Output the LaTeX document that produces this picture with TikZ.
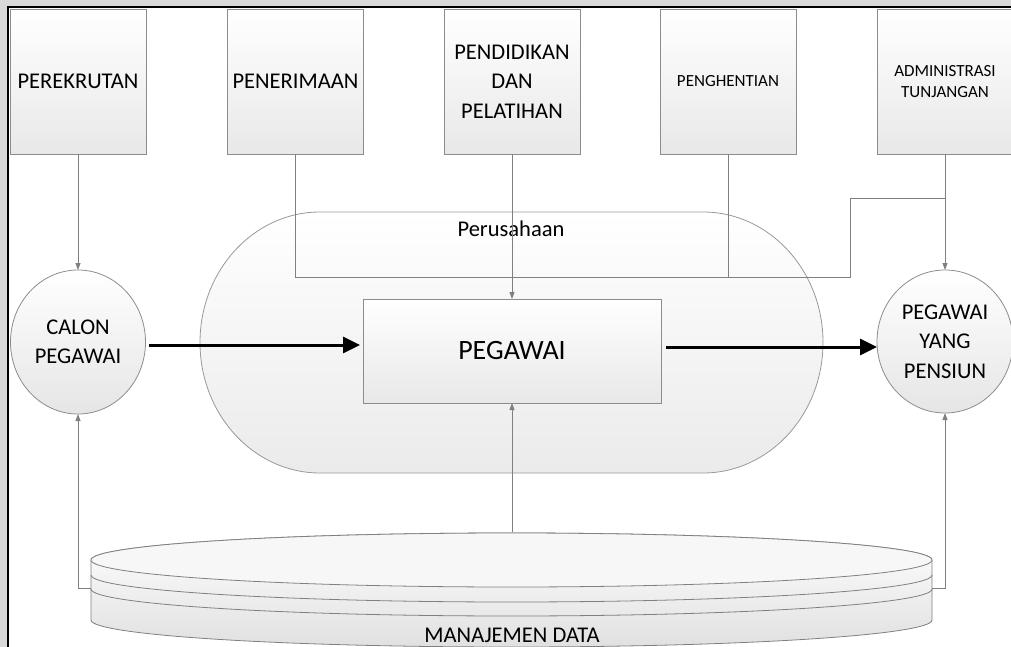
\documentclass[tikz,border=0pt]{standalone}
\usepackage{fontspec}
\setmainfont{Carlito}
\usetikzlibrary{arrows.meta,shapes.geometric,calc}

\begin{document}
\begin{tikzpicture}[x=1pt,y=-1pt,
  txt/.style={text=black, align=center, inner sep=0pt, outer sep=0pt},
  big/.style={font=\fontsize{22.5}{29.5}\selectfont},
  small/.style={font=\fontsize{17}{21.5}\selectfont},
  procbox/.style={draw=black!45, line width=0.8pt, top color=white, bottom color=black!9,
    minimum width=136pt, minimum height=145pt, txt},
  actor/.style={ellipse, draw=black!45, line width=0.8pt, top color=white, bottom color=black!10,
    minimum width=135pt, minimum height=144pt, txt, big},
  link/.style={draw=black!50, line width=0.8pt},
  tip/.style={-{Triangle[length=7pt,width=5pt]}},
  flow/.style={draw=black, line width=3pt, -{Triangle[length=17pt,width=16pt]}},
]
\useasboundingbox (0,0) rectangle (1011,647);
\clip (0,0) rectangle (1011,647);

% page edge and frame
\fill[black!15] (0,0) rectangle (1011,7);
\fill[black!15] (0,0) rectangle (8,647);
\draw[line width=2pt] (8,647) -- (8,7) -- (1011,7);

% company boundary
\path[draw=black!40, line width=0.8pt, top color=white, bottom color=black!8]
  (320,212) -- (703,212)
  arc[start angle=-90, end angle=90, x radius=120, y radius=130.5]
  -- (320,473)
  arc[start angle=90, end angle=270, x radius=120, y radius=130.5] -- cycle;
\node[txt, big] (perlabel) at (511,229) {Perusahaan};

% data store
\path[draw=black!50, line width=0.8pt, top color=white, bottom color=black!12]
  (91,560) -- (91,620)
  arc[start angle=180, end angle=0, x radius=420.5, y radius=27]
  -- (932,560)
  arc[start angle=0, end angle=-180, x radius=420.5, y radius=27] -- cycle;
\draw[draw=black!50, line width=0.8pt, fill=white!97!black] (511.5,560) ellipse[x radius=420.5, y radius=27];
\draw[draw=black!50, line width=0.8pt] (932,575) arc[start angle=0, end angle=180, x radius=420.5, y radius=27];
\draw[draw=black!50, line width=0.8pt] (932,589) arc[start angle=0, end angle=180, x radius=420.5, y radius=27];
\node[txt, big] (dblabel) at (512,635) {MANAJEMEN DATA};

% activities
\node[procbox, big] (rek) at (78,81.5) {PEREKRUTAN};
\node[procbox, big] (ter) at (295.5,81.5) {PENERIMAAN};
\node[procbox, big] (did) at (512,81.5) {PENDIDIKAN\\DAN\\PELATIHAN};
\node[procbox, small] (hen) at (728,81.5) {PENGHENTIAN};
\node[procbox, small] (adm) at (945,81.5) {ADMINISTRASI\\TUNJANGAN};

% actors
\node[actor] (calon) at (78,342) {CALON\\PEGAWAI};
\node[actor, minimum width=136pt, minimum height=143pt] (pensiun) at (945,341.5) {PEGAWAI\\YANG\\PENSIUN};

% employee
\node[procbox, minimum width=298pt, minimum height=104pt,
  font=\fontsize{28}{34}\selectfont] (peg) at (512,351) {PEGAWAI};

% thin connectors
\coordinate (bendA) at (850,277);
\coordinate (joinB) at (945,198);
\coordinate (dbtop) at (512,532);
\coordinate (dbleft) at (91,588);
\coordinate (dbright) at (932,588);

\draw[link, tip] (rek.south) -- (calon.north);
\draw[link] (ter.south) |- (bendA) |- (joinB);
\draw[link] (hen.south) -- (hen.south |- bendA);
\draw[link, tip] (adm.south) -- (pensiun.north);
\draw[link, tip] (did.south) -- (peg.north);
\draw[link, tip] (dbtop) -- (peg.south);
\draw[link, tip] (dbleft) -| (calon.south);
\draw[link, tip] (dbright) -| (pensiun.south);

% main flow
\draw[flow, shorten <=3pt, shorten >=3pt] ($(calon.east)+(0,3)$) -- ($(peg.west)+(0,-6)$);
\draw[flow, shorten <=5pt] ($(peg.east)+(0,-4)$) -- ($(pensiun.west)+(0,5.5)$);
\end{tikzpicture}
\end{document}
